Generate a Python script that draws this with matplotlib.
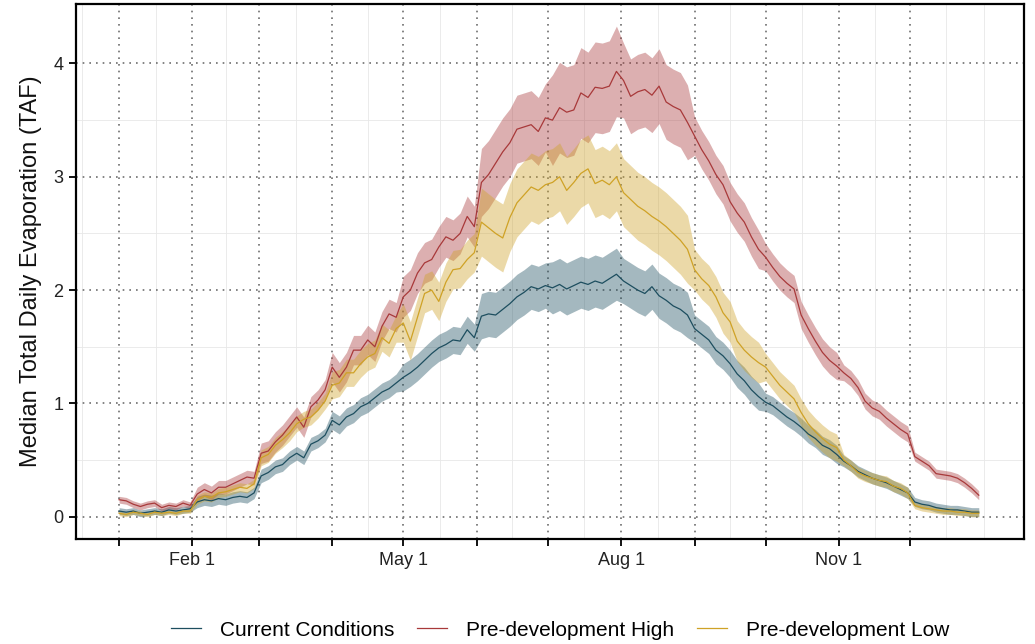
import numpy as np
import matplotlib
matplotlib.use("Agg")
import matplotlib.pyplot as plt
from matplotlib.lines import Line2D

plt.rcParams['font.family'] = ['Liberation Sans', 'DejaVu Sans']

# daily series sampled every 3 days, Jan 1 .. Dec 30
days = np.arange(0, 364, 3)

current = [
    0.05, 0.04, 0.05, 0.03, 0.04, 0.05, 0.04, 0.06, 0.05, 0.06, 0.07,        # Jan
    0.13, 0.15, 0.14, 0.16, 0.15, 0.17, 0.18, 0.17, 0.21,                    # Feb
    0.36, 0.39, 0.44, 0.46, 0.52, 0.56, 0.52, 0.64, 0.67, 0.72,              # Mar
    0.85, 0.81, 0.88, 0.91, 0.97, 1.00, 1.05, 1.10, 1.13, 1.18,              # Apr
    1.23, 1.27, 1.32, 1.38, 1.44, 1.49, 1.52, 1.56, 1.55, 1.65, 1.58,        # May
    1.77, 1.79, 1.78, 1.83, 1.88, 1.94, 1.98, 2.03, 2.01, 2.04,              # Jun
    2.02, 2.05, 2.01, 2.04, 2.07, 2.05, 2.08, 2.06, 2.10, 2.14,              # Jul
    2.08, 2.04, 2.00, 1.97, 2.03, 1.95, 1.91, 1.86, 1.83, 1.78,              # Aug
    1.66, 1.61, 1.56, 1.47, 1.42, 1.35, 1.26, 1.20, 1.12, 1.06,              # Sep
    1.01, 0.98, 0.93, 0.88, 0.84, 0.79, 0.73, 0.69, 0.63, 0.60, 0.55,        # Oct
    0.49, 0.45, 0.40, 0.37, 0.34, 0.32, 0.30, 0.27, 0.24, 0.21,              # Nov
    0.13, 0.11, 0.10, 0.08, 0.07, 0.06, 0.06, 0.05, 0.04, 0.04,              # Dec
]
predev_high = [
    0.15, 0.14, 0.11, 0.09, 0.11, 0.12, 0.08, 0.10, 0.09, 0.12, 0.10,
    0.20, 0.24, 0.21, 0.26, 0.26, 0.29, 0.32, 0.35, 0.34,
    0.56, 0.58, 0.66, 0.72, 0.80, 0.88, 0.79, 0.97, 1.03, 1.12,
    1.32, 1.23, 1.32, 1.47, 1.47, 1.56, 1.50, 1.68, 1.79, 1.76,
    1.94, 2.00, 2.15, 2.24, 2.27, 2.38, 2.47, 2.44, 2.50, 2.65, 2.56,
    2.95, 3.02, 3.12, 3.22, 3.30, 3.42, 3.44, 3.46, 3.40, 3.52,
    3.50, 3.61, 3.57, 3.59, 3.74, 3.70, 3.79, 3.78, 3.80, 3.93,
    3.85, 3.71, 3.75, 3.77, 3.72, 3.80, 3.66, 3.62, 3.59, 3.48,
    3.36, 3.24, 3.14, 3.02, 2.93, 2.78, 2.68, 2.60, 2.47, 2.36,
    2.29, 2.20, 2.12, 2.06, 2.01, 1.78, 1.66, 1.55, 1.45, 1.38, 1.33,
    1.27, 1.22, 1.14, 1.02, 0.96, 0.93, 0.87, 0.82, 0.77, 0.73,
    0.53, 0.49, 0.45, 0.38, 0.37, 0.36, 0.34, 0.30, 0.25, 0.19,
]
predev_low = [
    0.03, 0.02, 0.04, 0.03, 0.02, 0.04, 0.03, 0.04, 0.03, 0.05, 0.05,
    0.15, 0.18, 0.17, 0.21, 0.22, 0.24, 0.26, 0.25, 0.29,
    0.52, 0.55, 0.63, 0.68, 0.74, 0.82, 0.86, 0.88, 0.94, 1.02,
    1.16, 1.18, 1.27, 1.27, 1.35, 1.41, 1.44, 1.58, 1.53, 1.66,
    1.71, 1.55, 1.76, 1.97, 2.00, 1.90, 2.07, 2.18, 2.19, 2.27, 2.33,
    2.60, 2.55, 2.50, 2.46, 2.64, 2.77, 2.84, 2.91, 2.88, 2.93,
    2.95, 3.00, 2.88, 2.95, 3.03, 3.07, 2.94, 2.97, 2.93, 3.00,
    2.86, 2.80, 2.74, 2.70, 2.65, 2.61, 2.56, 2.50, 2.44, 2.36,
    2.18, 2.10, 2.04, 1.94, 1.80, 1.72, 1.55, 1.47, 1.41, 1.36,
    1.32, 1.24, 1.16, 1.10, 1.04, 0.92, 0.82, 0.75, 0.69, 0.64, 0.61,
    0.50, 0.45, 0.39, 0.36, 0.34, 0.32, 0.31, 0.27, 0.25, 0.21,
    0.10, 0.08, 0.07, 0.06, 0.05, 0.05, 0.04, 0.04, 0.03, 0.03,
]

# half width of the shaded range, one value per month
spread_current = [0.03, 0.05, 0.06, 0.08, 0.12, 0.20, 0.23, 0.20, 0.12, 0.08, 0.05, 0.04]
spread_high = [0.03, 0.06, 0.09, 0.13, 0.18, 0.30, 0.40, 0.33, 0.17, 0.12, 0.07, 0.04]
spread_low = [0.02, 0.04, 0.07, 0.12, 0.17, 0.30, 0.30, 0.30, 0.18, 0.12, 0.05, 0.03]

names = ['Current Conditions', 'Pre-development High', 'Pre-development Low']
colors = ['#1d4e5f', '#a8393a', '#cfa226']

months = np.arange('2021-01', '2022-01', dtype='datetime64[M]')
month_starts = (months.astype('datetime64[D]') - np.datetime64('2021-01-01')).astype(int)
month_idx = np.searchsorted(month_starts, days, side='right') - 1

fig = plt.figure(figsize=(10.35, 6.44), dpi=100)
ax = fig.add_axes([0.0734, 0.163, 0.9162, 0.8308])

series = [current, predev_high, predev_low]
spreads = [spread_current, spread_high, spread_low]
for vals, sp, c in zip(series, spreads, colors):
    v = np.array(vals)
    w = np.array(sp)[month_idx]
    ax.fill_between(days, v - w, v + w, color=c, alpha=0.4, lw=0, zorder=2)
for vals, c in zip(series, colors):
    ax.plot(days, vals, color=c, lw=0.9, zorder=3)

# grid: dotted majors, light minors
ax.set_xticks(month_starts)
labels = ['' for m in month_starts]
labels[1], labels[4], labels[7], labels[10] = 'Feb 1', 'May 1', 'Aug 1', 'Nov 1'
ax.set_xticklabels(labels)
minor_x = np.concatenate([[-15.5], (month_starts[:-1] + month_starts[1:]) / 2, [349, 365]])
ax.set_xticks(minor_x, minor=True)
ax.set_yticks([0, 1, 2, 3, 4])
ax.set_yticks([0.5, 1.5, 2.5, 3.5], minor=True)
ax.grid(which='minor', color='#e8e8e8', lw=0.6, zorder=0)
ax.grid(which='major', color='#6e6e6e', lw=1.2, linestyle=(0, (1, 3)), zorder=1)
ax.set_axisbelow(True)

ax.set_xlim(-18.2, 382.2)
ax.set_ylim(-0.197, 4.525)

for s in ax.spines.values():
    s.set_linewidth(1.6)
    s.set_color('black')
ax.tick_params(which='major', length=5, width=1.3, color='black', labelsize=13,
               labelcolor='#222222', pad=4)
ax.tick_params(which='minor', length=0)
ax.set_ylabel('Median Total Daily Evaporation (TAF)', fontsize=17, labelpad=8, color='#111111')

handles = [Line2D([], [], color=c, lw=0.9) for c in colors]
fig.legend(handles, names, loc='center', bbox_to_anchor=(560 / 1035, 1 - 630 / 644),
           ncol=3, frameon=False, fontsize=15, handlelength=1.45, handletextpad=0.9,
           columnspacing=1.1)

fig.savefig('out.png', dpi=100)
